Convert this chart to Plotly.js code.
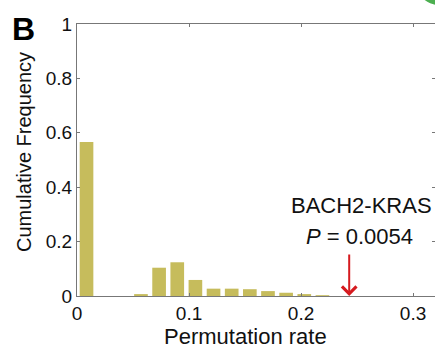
<!DOCTYPE html>
<html>
<head>
<meta charset="utf-8">
<script src="https://cdn.plot.ly/plotly-3.0.1.min.js"></script>
<style>html,body{margin:0;padding:0;background:#fff;}#chart{width:435px;height:351px;}</style>
</head>
<body>
<div id="chart"></div>
<script>
// Bin centres of the permutation-rate histogram
const binCenters = [0.0085, 0.0247, 0.0409, 0.0571, 0.0733, 0.0895, 0.1057, 0.1219, 0.1381, 0.1543, 0.1705, 0.1867, 0.2029, 0.2191, 0.2353];
// Frequencies
const frequencies = [0.566, 0.0, 0.0, 0.007, 0.104, 0.124, 0.059, 0.027, 0.027, 0.025, 0.018, 0.012, 0.007, 0.003, 0.0];
const xTickVals = [0, 0.1, 0.2, 0.3];
const xTickText = ['0', '0.1', '0.2', '0.3'];
const yTickVals = [0, 0.2, 0.4, 0.6, 0.8, 1];
const yTickText = ['0', '0.2', '0.4', '0.6', '0.8', '1'];
const observedRate = 0.243;
const geneLabel = 'BACH2-KRAS';
const pLabel = '<i>P</i> = 0.0054';
const xTitle = 'Permutation rate';
const yTitle = 'Cumulative Frequency';
const panelLetter = 'B';

const FONT = 'Liberation Sans, Arial, sans-serif';
const L = 77, T = 24, W = 358, H = 272;
const px = v => (v - L) / W;          // pixel x -> paper x
const py = v => 1 - (v - T) / H;      // pixel y -> paper y

const data = [{
  type: 'bar',
  x: binCenters,
  y: frequencies,
  width: 0.0122,
  marker: {color: '#c6bc5c', line: {width: 0}},
  hoverinfo: 'x+y'
}];

const layout = {
  width: 435, height: 351,
  margin: {l: L, r: 0, t: T, b: 55, pad: 0},
  paper_bgcolor: '#ffffff',
  plot_bgcolor: '#ffffff',
  showlegend: false,
  font: {family: FONT, color: '#111'},
  xaxis: {
    range: [0, 0.3196],
    tickvals: xTickVals, ticktext: xTickText,
    ticks: 'inside', ticklen: 3, tickcolor: '#777', tickwidth: 1,
    showline: true, linecolor: '#777', linewidth: 1, mirror: 'ticks',
    showgrid: false, zeroline: false,
    tickfont: {size: 19, family: FONT, color: '#111'}
  },
  yaxis: {
    range: [0, 1],
    tickvals: yTickVals, ticktext: yTickText,
    ticks: 'inside', ticklen: 3, tickcolor: '#777', tickwidth: 1,
    showline: true, linecolor: '#777', linewidth: 1, mirror: 'ticks',
    showgrid: false, zeroline: false,
    tickfont: {size: 19, family: FONT, color: '#111'}
  },
  annotations: [
    {x: observedRate, y: 0, xref: 'x', yref: 'y', ax: 0, ay: -43, axref: 'pixel', ayref: 'pixel',
     showarrow: true, arrowhead: 4, arrowsize: 1.4, arrowwidth: 2, arrowcolor: '#d51a1f', text: ''},
    {x: observedRate + 0.011, y: 0.331, xref: 'x', yref: 'y', text: geneLabel, showarrow: false,
     font: {size: 22, family: FONT, color: '#111'}, xanchor: 'center', yanchor: 'middle'},
    {x: observedRate + 0.009, y: 0.217, xref: 'x', yref: 'y', text: pLabel, showarrow: false,
     font: {size: 22, family: FONT, color: '#111'}, xanchor: 'center', yanchor: 'middle'},
    {x: px(10), y: py(29), xref: 'paper', yref: 'paper', text: '<b>' + panelLetter + '</b>', showarrow: false,
     font: {size: 32, family: FONT, color: '#000'}, xanchor: 'left', yanchor: 'middle'},
    {x: px(245), y: py(336), xref: 'paper', yref: 'paper', text: xTitle, showarrow: false,
     font: {size: 22, family: FONT, color: '#111'}, xanchor: 'center', yanchor: 'middle'},
    {x: px(24), y: py(152), xref: 'paper', yref: 'paper', text: yTitle, showarrow: false, textangle: -90,
     font: {size: 20, family: FONT, color: '#111'}, xanchor: 'center', yanchor: 'middle'}
  ],
  shapes: [
    {type: 'circle', xref: 'paper', yref: 'paper', x0: px(416), x1: px(462), y0: py(5), y1: py(-41),
     fillcolor: '#4caf50', line: {width: 0}, layer: 'above'}
  ]
};

Plotly.newPlot('chart', data, layout, {displayModeBar: false, staticPlot: true});
</script>
</body>
</html>
